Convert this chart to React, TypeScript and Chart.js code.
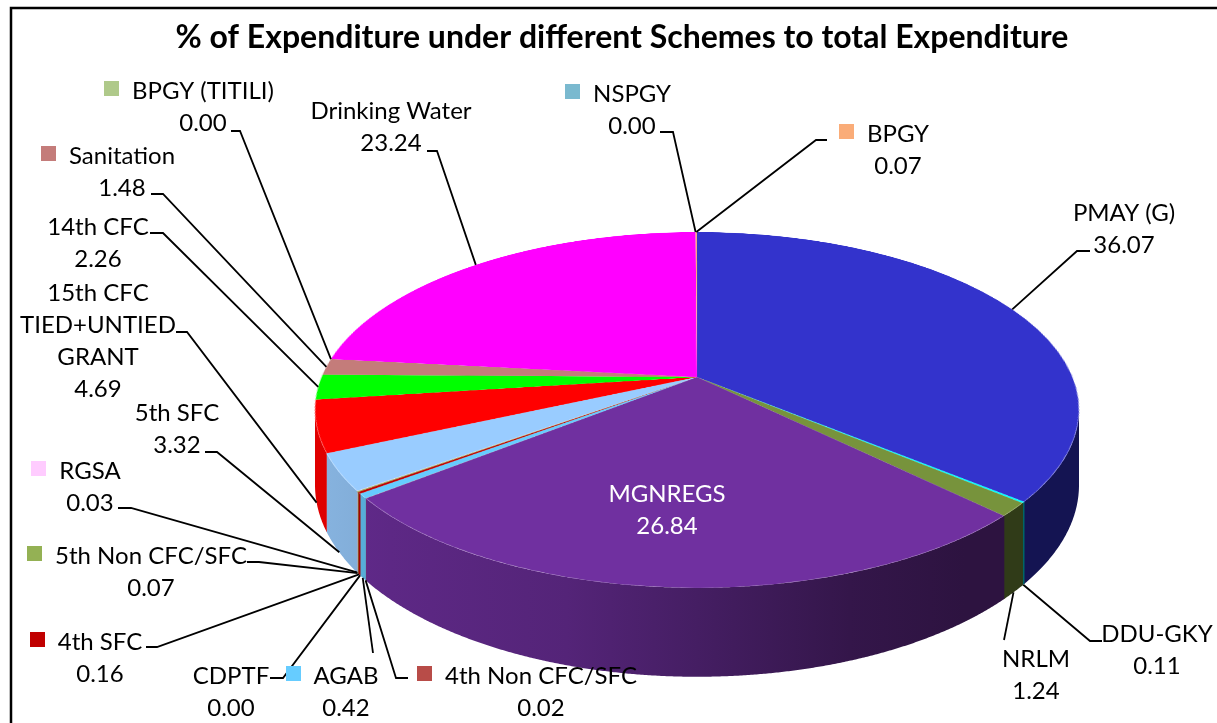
import React, { useEffect, useRef } from "react";
import { Chart, registerables } from "chart.js";

Chart.register(...registerables);

// ---------- data ----------
const categories: string[] = [
  "PMAY (G)",
  "DDU-GKY",
  "NRLM",
  "MGNREGS",
  "4th Non CFC/SFC",
  "AGAB",
  "CDPTF",
  "4th SFC",
  "5th Non CFC/SFC",
  "RGSA",
  "5th SFC",
  "15th CFC\nTIED+UNTIED\nGRANT",
  "14th CFC",
  "Sanitation",
  "BPGY (TITILI)",
  "Drinking Water",
  "NSPGY",
  "BPGY",
];

const values: number[] = [
  36.07, 0.11, 1.24, 26.84, 0.02, 0.42, 0.0, 0.16, 0.07, 0.03, 3.32, 4.69, 2.26,
  1.48, 0.0, 23.24, 0.0, 0.07,
];

const colors: string[] = [
  "#3333CC",
  "#00FFFF",
  "#77933C",
  "#7030A0",
  "#B84C48",
  "#66CCFF",
  "#A6A6A6",
  "#C00000",
  "#94B154",
  "#FFCCFF",
  "#99CCFF",
  "#FF0000",
  "#00FF00",
  "#C47C7A",
  "#AFC98A",
  "#FF00FF",
  "#7AB9CF",
  "#FAAC78",
];

const TITLE = "% of Expenditure under different Schemes to total Expenditure";

// ---------- layout (label placement, not data) ----------
type Lbl = {
  cx: number;
  cy: number;
  ex?: number;
  ey?: number;
  sx?: number;
  key?: boolean;
  inside?: boolean;
};
const labelLayout: Lbl[] = [
  { cx: 1124, cy: 212, ex: 1077, ey: 251, sx: 1090 },
  { cx: 1157, cy: 633, ex: 1090, ey: 641, sx: 1102 },
  { cx: 1036, cy: 658, ex: 1004, ey: 640 },
  { cx: 667, cy: 493, inside: true },
  { cx: 541, cy: 675, ex: 396, ey: 678, sx: 408, key: true },
  { cx: 346, cy: 675, ex: 373, ey: 653, key: true },
  { cx: 231, cy: 675, ex: 283, ey: 678, sx: 270 },
  { cx: 100, cy: 641, ex: 157, ey: 647, sx: 146, key: true },
  { cx: 151, cy: 555, ex: 259, ey: 562, sx: 247, key: true },
  { cx: 90, cy: 470, ex: 131, ey: 508, sx: 118, key: true },
  { cx: 177, cy: 412, ex: 217, ey: 452, sx: 205 },
  { cx: 98, cy: 292, ex: 187, ey: 332, sx: 176 },
  { cx: 98, cy: 226, ex: 163, ey: 233, sx: 150 },
  { cx: 122, cy: 155, ex: 163, ey: 194, sx: 151, key: true },
  { cx: 203, cy: 90, ex: 240, ey: 131, sx: 231, key: true },
  { cx: 391, cy: 110, ex: 437, ey: 151, sx: 427 },
  { cx: 632, cy: 93, ex: 673, ey: 132, sx: 660, key: true },
  { cx: 898, cy: 133, ex: 816, ey: 140, sx: 827, key: true },
];

const FONT_FAMILY = "Lato, 'Open Sans', sans-serif";
const LABEL_SIZE = 24;
const LINE_H = 32;

// perspective projection of the pie disc
const CX = 697;
const CY = 377;
const PA = 171.8; // vertical scale
const PBX = 375.4; // horizontal scale
const PK = 0.185; // perspective strength
const DEPTH = 72.5;

const wallStops: [number, number][] = [
  [0, 0.88],
  [0.1, 0.83],
  [0.33, 0.75],
  [0.5, 0.62],
  [0.7, 0.46],
  [0.85, 0.4],
  [1, 0.4],
];

function shade(hex: string, f: number): string {
  const n = parseInt(hex.slice(1), 16);
  const r = Math.round(((n >> 16) & 255) * f);
  const g = Math.round(((n >> 8) & 255) * f);
  const b = Math.round((n & 255) * f);
  return `rgb(${r},${g},${b})`;
}

function proj(phi: number, depth: number): [number, number] {
  const u = Math.cos(phi);
  const v = Math.sin(phi);
  const k = 1 / (1 - PK * v);
  return [CX + PBX * u * k, CY + PA * v * k + depth * DEPTH * k];
}

const pie3d = {
  id: "pie3d",
  afterDatasetsDraw(chart: any) {
    const arcs = chart.getDatasetMeta(0).data as any[];
    if (!arcs.length) return;
    const sx = arcs[0].x;
    const sy = arcs[0].y;
    const R = arcs[0].outerRadius;
    const ctx: CanvasRenderingContext2D = chart.ctx;
    const pad = 3;
    const ox = Math.floor(sx - R - pad);
    const oy = Math.floor(sy - R - pad);
    const S = Math.ceil(2 * R + 2 * pad) + 2;
    const off = document.createElement("canvas");
    off.width = S;
    off.height = S;
    const octx = off.getContext("2d")!;
    octx.drawImage(chart.canvas, ox, oy, S, S, 0, 0, S, S);
    const cxo = sx - ox;
    const cyo = sy - oy;

    ctx.save();
    ctx.setTransform(1, 0, 0, 1, 0, 0);
    ctx.clearRect(ox, oy, S, S);

    // side walls
    const xmax = PBX / Math.sqrt(1 - PK * PK);
    const vis0 = Math.asin(PK);
    const vis1 = Math.PI - vis0;
    arcs.forEach((arc: any, i: number) => {
      if (!values[i]) return;
      const p1 = Math.max(arc.startAngle - 0.002, vis0);
      const p2 = Math.min(arc.endAngle + 0.002, vis1);
      if (p2 <= p1) return;
      const grad = ctx.createLinearGradient(CX - xmax, 0, CX + xmax, 0);
      wallStops.forEach(([t, f]) => grad.addColorStop(t, shade(colors[i], f)));
      const n = Math.max(2, Math.ceil((p2 - p1) / 0.004));
      ctx.beginPath();
      for (let j = 0; j <= n; j++) {
        const [x, y] = proj(p1 + ((p2 - p1) * j) / n, 0);
        if (j === 0) ctx.moveTo(x, y);
        else ctx.lineTo(x, y);
      }
      for (let j = n; j >= 0; j--) {
        const [x, y] = proj(p1 + ((p2 - p1) * j) / n, 1);
        ctx.lineTo(x, y);
      }
      ctx.closePath();
      ctx.fillStyle = grad;
      ctx.fill();
    });

    // top face: perspective warp of the pie drawn by Chart.js
    ctx.imageSmoothingEnabled = true;
    const yTop = CY - PA / (1 + PK);
    const yBot = CY + PA / (1 - PK);
    for (let Y = Math.floor(yTop) - 1; Y <= Math.ceil(yBot) + 1; Y++) {
      const dy = Y + 0.5 - CY;
      const v = dy / (PA + PK * dy);
      if (v < -1.01 || v > 1.01) continue;
      const k = 1 / (1 - PK * v);
      const sc = (PBX * k) / R;
      const srcY = cyo + v * R - 0.5;
      ctx.drawImage(off, 0, srcY, S, 1, CX - cxo * sc, Y, S * sc, 1);
    }
    ctx.restore();
  },
  afterDraw(chart: any) {
    const ctx: CanvasRenderingContext2D = chart.ctx;
    const arcs = chart.getDatasetMeta(0).data as any[];
    ctx.save();
    // frame
    ctx.strokeStyle = "#000";
    ctx.lineWidth = 2.5;
    ctx.beginPath();
    ctx.moveTo(11, 740);
    ctx.lineTo(11, 8);
    ctx.lineTo(1240, 8);
    ctx.stroke();

    // leader lines
    ctx.lineWidth = 1.8;
    ctx.lineJoin = "miter";
    labelLayout.forEach((L, i) => {
      if (L.inside || L.ex === undefined) return;
      const arc = arcs[i];
      const mid = (arc.startAngle + arc.endAngle) / 2;
      const v = Math.sin(mid);
      const [ax, ay] = proj(mid, v > PK ? 1 : 0);
      ctx.beginPath();
      ctx.moveTo(ax, ay);
      ctx.lineTo(L.ex, L.ey!);
      if (L.sx !== undefined) ctx.lineTo(L.sx, L.ey!);
      ctx.stroke();
    });

    // texts and keys
    ctx.font = `${LABEL_SIZE}px ${FONT_FAMILY}`;
    ctx.textAlign = "center";
    ctx.textBaseline = "alphabetic";
    const capHalf = LABEL_SIZE * 0.36;
    labelLayout.forEach((L, i) => {
      const lines = [...categories[i].split("\n"), values[i].toFixed(2)];
      ctx.fillStyle = L.inside ? "#FFFFFF" : "#000000";
      lines.forEach((t, j) => {
        ctx.fillText(t, L.cx, L.cy + j * LINE_H + capHalf);
      });
      if (L.key) {
        const w = ctx.measureText(lines[0]).width;
        ctx.fillStyle = colors[i];
        ctx.fillRect(Math.round(L.cx - w / 2 - 13 - 15), Math.round(L.cy - 9), 15, 15);
      }
    });
    ctx.restore();
  },
};

export default function App() {
  const ref = useRef<HTMLCanvasElement | null>(null);
  useEffect(() => {
    if (!ref.current) return;
    const chart = new Chart(ref.current, {
      type: "pie",
      data: {
        labels: categories,
        datasets: [
          {
            data: values,
            backgroundColor: colors,
            borderWidth: 0,
          },
        ],
      },
      options: {
        responsive: false,
        devicePixelRatio: 1,
        animation: false,
        events: [],
        layout: { padding: { left: 27, right: 0, top: 0, bottom: 0 } },
        plugins: {
          legend: { display: false },
          tooltip: { enabled: false },
          title: {
            display: true,
            text: TITLE,
            color: "#000000",
            font: { family: FONT_FAMILY, size: 32, weight: "bold" },
            padding: { top: 18, bottom: 10 },
          },
        },
      },
      plugins: [pie3d as any],
    });
    return () => chart.destroy();
  }, []);
  return (
    <div
      style={{
        position: "absolute",
        left: 0,
        top: 0,
        width: 1217,
        height: 723,
        background: "#FFFFFF",
        overflow: "hidden",
      }}
    >
      <canvas
        ref={ref}
        width={1217}
        height={723}
        style={{ display: "block", width: 1217, height: 723 }}
      />
    </div>
  );
}
